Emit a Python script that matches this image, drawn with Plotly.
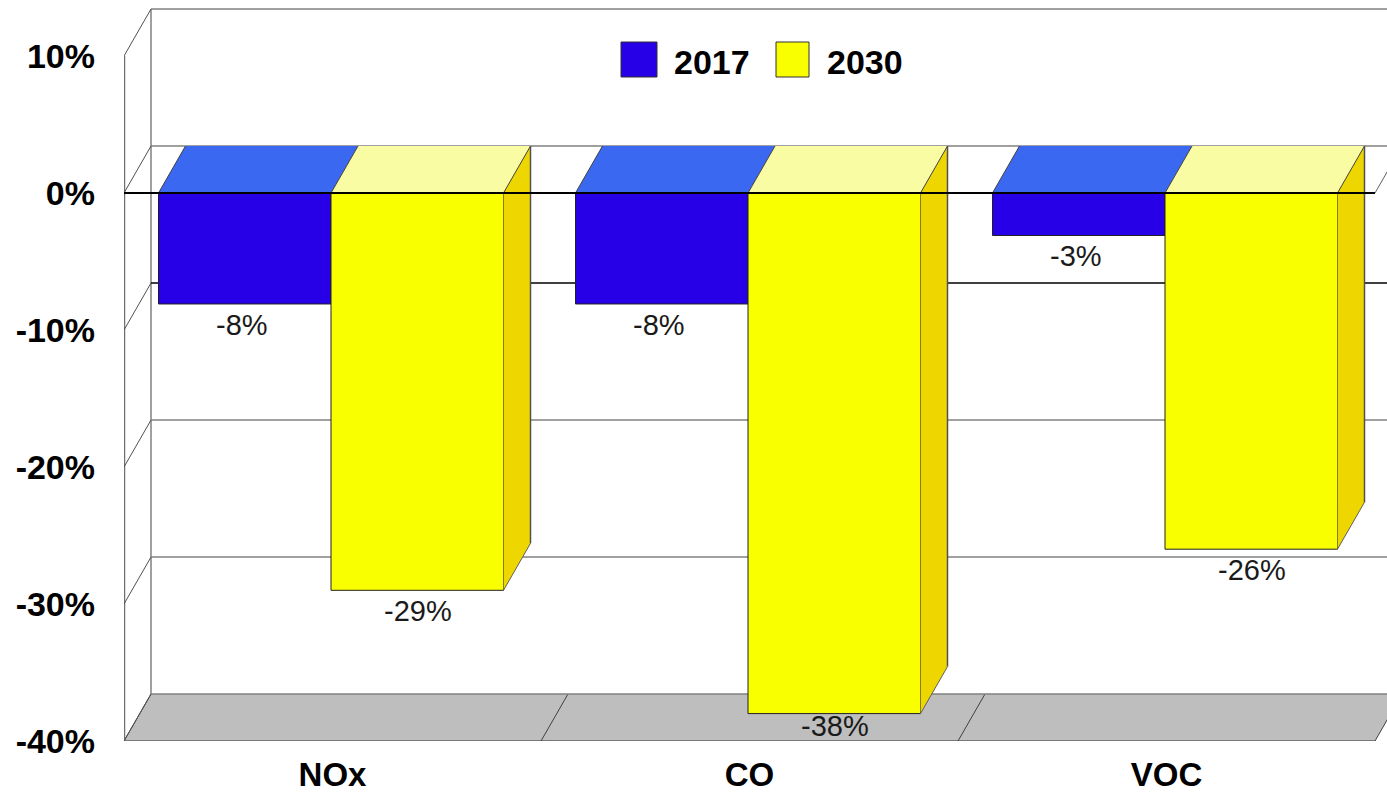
import plotly.graph_objects as go

categories = ["NOx", "CO", "VOC"]
series_names = ["2017", "2030"]
values_2017 = [-8.1, -8.1, -3.1]
values_2030 = [-29.0, -38.0, -26.0]
labels_2017 = ["-8%", "-8%", "-3%"]
labels_2030 = ["-29%", "-38%", "-26%"]
y_ticks = [-40, -30, -20, -10, 0, 10]
y_tick_labels = ["-40%", "-30%", "-20%", "-10%", "0%", "10%"]

FRONT_2017, TOP_2017 = "#2800E8", "#3B68F0"
FRONT_2030, TOP_2030, SIDE_2030 = "#FAFF00", "#FAFCA4", "#EED700"
GRID, FLOOR = "#707070", "#BEBEBE"
FONT = "Liberation Sans"

W, H = 1387, 792
ML, MB = 124, 51
CAT_PX = 417.0
PX_PER_UNIT = 13.7
DX = 27 / CAT_PX          # depth in category units
DY = 47 / PX_PER_UNIT     # depth in value units
BAR_W = 172.5 / CAT_PX
BAR_SHIFT = -1.5 / CAT_PX
X0 = -0.5
X1 = X0 + (W - ML) / CAT_PX
Y0 = -40
Y1 = Y0 + (H - MB) / PX_PER_UNIT


def px(x):
    return (x - ML) / (W - ML)


def py(y):
    return 1 - y / (H - MB)


def poly(points):
    return "M" + "L".join(f"{x:.4f},{y:.4f}" for x, y in points) + "Z"


shapes = []


def seg(x0, y0, x1, y1, color=GRID, width=1, layer="below"):
    shapes.append(dict(type="line", xref="x", yref="y", x0=x0, y0=y0, x1=x1, y1=y1,
                       line=dict(color=color, width=width), layer=layer))


def face(points, color, layer="above"):
    shapes.append(dict(type="path", xref="x", yref="y", path=poly(points),
                       fillcolor=color, line=dict(width=0), layer=layer))


# Floor
x_end = X0 + len(categories)
face([(X0, Y0), (X0 + DX, Y0 + DY), (x_end + DX, Y0 + DY), (x_end, Y0)], FLOOR, "below")
seg(X0, Y0, x_end, Y0, "#606060", 1.5)
for i in range(len(categories) + 1):
    seg(X0 + i, Y0, X0 + i + DX, Y0 + DY, "#404040")

# Walls and gridlines
seg(X0, Y0, X0, y_ticks[-1], "#707070", 2.5)
seg(X0 + DX, Y0 + DY, X0 + DX, y_ticks[-1] + DY, "#808080", 1.5)
for t in y_ticks:
    color = "#000000" if t == -10 else "#808080"
    seg(X0 + DX, t + DY, X1 + 1, t + DY, color, 1.5)
    seg(X0, t, X0 + DX, t + DY, "#505050")

# 3D faces computed from the values
for i, (a, b) in enumerate(zip(values_2017, values_2030)):
    c = i + BAR_SHIFT
    l, r = c - BAR_W, c + BAR_W
    face([(l, 0), (l + DX, DY), (c + DX, DY), (c, 0)], TOP_2017)
    face([(c, 0), (c + DX, DY), (r + DX, DY), (r, 0)], TOP_2030)
    face([(r, 0), (r + DX, DY), (r + DX, b + DY), (r, b)], SIDE_2030)
    seg(l, 0, l + DX, DY, "#404040", 1, "above")
    seg(c, 0, c + DX, DY, "#404040", 1, "above")
    seg(r, 0, r + DX, DY, "#404040", 1, "above")
    seg(r, b, r + DX, b + DY, "#606060", 1, "above")
    seg(r + DX, DY, r + DX, b + DY, "#505050", 1.5, "above")

# Zero line in front of the bars
seg(X0, 0, x_end, 0, "#000000", 2, "above")
seg(x_end, 0, x_end + DX, DY, "#606060", 1, "above")

# Legend
legend_items = [(series_names[0], FRONT_2017, 621, 657, 672), (series_names[1], FRONT_2030, 776, 809, 825)]
annotations = []
for name, color, sx0, sx1, tx in legend_items:
    shapes.append(dict(type="rect", xref="paper", yref="paper", x0=px(sx0), x1=px(sx1),
                       y0=py(77), y1=py(42), fillcolor=color,
                       line=dict(color="#303030", width=1), layer="above"))
    annotations.append(dict(xref="paper", yref="paper", x=px(tx), y=py(62), text=name,
                            showarrow=False, xanchor="left", yanchor="middle",
                            font=dict(family=FONT, size=34, color="#000000", weight=700)))

# Data labels
for vals, labs, shift in ((values_2017, labels_2017, -91), (values_2030, labels_2030, 85)):
    for cat, v, lab in zip(categories, vals, labs):
        near_floor = v < -35
        annotations.append(dict(x=cat, y=v, text=lab, showarrow=False, xanchor="center",
                                yanchor="middle", xshift=shift,
                                yshift=-12 if near_floor else -21,
                                font=dict(family=FONT, size=29, color="#1a1a1a")))

fig = go.Figure()
fig.add_bar(x=categories, y=values_2017, name=series_names[0], marker_color=FRONT_2017,
            width=BAR_W, offset=BAR_SHIFT - BAR_W,
            marker_line=dict(color="#202020", width=1), showlegend=False)
fig.add_bar(x=categories, y=values_2030, name=series_names[1], marker_color=FRONT_2030,
            width=BAR_W, offset=BAR_SHIFT,
            marker_line=dict(color="#202020", width=1), showlegend=False)

fig.update_layout(
    width=W, height=H, autosize=False,
    margin=dict(l=ML, r=0, t=0, b=MB, pad=0),
    paper_bgcolor="white", plot_bgcolor="white",
    barmode="overlay",
    shapes=shapes, annotations=annotations, showlegend=False,
    font=dict(family=FONT, color="#000000"),
)
fig.update_xaxes(type="category", categoryorder="array", categoryarray=categories,
                 range=[X0, X1], showgrid=False, zeroline=False, showline=False,
                 automargin=False, ticks="", ticklabelstandoff=11,
                 tickfont=dict(family=FONT, size=33, weight=700))
fig.update_yaxes(range=[Y0, Y1], tickmode="array", tickvals=y_ticks, ticktext=y_tick_labels,
                 showgrid=False, zeroline=False, showline=False, automargin=False,
                 ticks="", ticklabelstandoff=28,
                 tickfont=dict(family=FONT, size=34, weight=700))

fig.write_html("out.html", config={"displayModeBar": False},
               post_script="document.body.style.margin='0';")
